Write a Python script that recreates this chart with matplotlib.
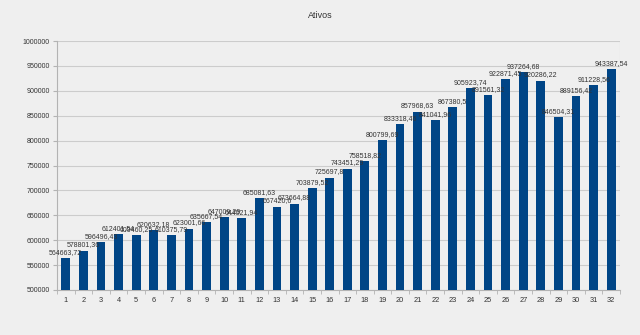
import matplotlib
matplotlib.use("Agg")
import matplotlib.pyplot as plt
import numpy as np

periods = list(range(1, 33))
ativos = [
    564663.72, 578801.36, 596496.43, 612401.54, 609460.25, 620632.18,
    610375.79, 623001.66, 635667.54, 647009.29, 644021.94, 685081.63,
    667420.6, 673664.88, 703879.52, 725697.80, 743451.29, 758518.82,
    800799.69, 833318.46, 857968.63, 841041.96, 867380.5, 905923.74,
    891561.32, 922871.45, 937264.68, 920286.22, 846504.31, 889156.42,
    911228.56, 943387.54,
]
labels = [
    "564663,72", "578801,36", "596496,43", "612401,54", "609460,25", "620632,18",
    "610375,79", "623001,66", "635667,54", "647009,29", "644021,94", "685081,63",
    "667420,6", "673664,88", "703879,52", "725697,8", "743451,29", "758518,82",
    "800799,69", "833318,46", "857968,63", "841041,96", "867380,5", "905923,74",
    "891561,32", "922871,45", "937264,68", "920286,22", "846504,31", "889156,42",
    "911228,56", "943387,54",
]
y_ticks = list(range(500000, 1000001, 50000))

plt.rcParams["font.family"] = ["Liberation Sans Narrow", "Liberation Sans", "DejaVu Sans"]

bg = "#efefef"
txt = "#333333"
fig = plt.figure(figsize=(6.4, 3.35), dpi=100, facecolor=bg)
ax = fig.add_axes([57 / 640, 1 - 290 / 335, (620 - 57) / 640, (290 - 41) / 335])
ax.set_facecolor(bg)

x = np.arange(len(periods))
ax.bar(x, ativos, width=0.5, color="#004586", zorder=3)
for xi, v, t in zip(x, ativos, labels):
    ax.text(xi, v + 4500, t, ha="center", va="bottom", fontsize=5.0,
            color=txt, zorder=4)

ax.set_xlim(-0.5, len(periods) - 0.5)
ax.set_ylim(500000, 1000000)
ax.set_yticks(y_ticks)
ax.set_yticklabels([str(v) for v in y_ticks])
ax.set_xticks(x)
ax.set_xticklabels([str(p) for p in periods])
ax.set_xticks(np.arange(-0.5, len(periods), 1), minor=True)
ax.tick_params(axis="x", which="major", length=0, labelsize=5.3, colors=txt, pad=5)
ax.tick_params(axis="x", which="minor", length=3, color="#b3b3b3")
ax.tick_params(axis="y", length=3, color="#b3b3b3", labelsize=5.0, labelcolor=txt, pad=2)

ax.grid(axis="y", color="#cccccc", linewidth=0.8, zorder=0)
for s in ["top", "right"]:
    ax.spines[s].set_visible(False)
ax.spines["left"].set_color("#b3b3b3")
ax.spines["bottom"].set_color("#b3b3b3")
ax.axvline(len(periods) - 0.5, color="#cccccc", linewidth=0.8, zorder=0)

fig.text(0.5, 1 - 15 / 335, "Ativos", ha="center", va="center", fontsize=6.5, color=txt)

fig.savefig("out.png", dpi=100, facecolor=bg)
